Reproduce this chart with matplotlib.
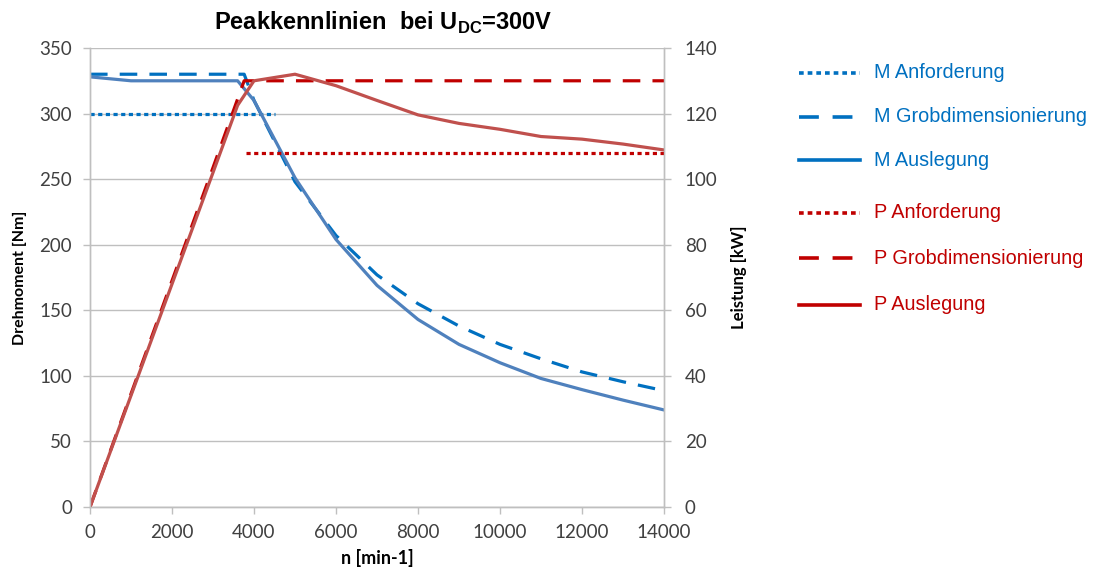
import matplotlib
matplotlib.use("Agg")
import matplotlib.pyplot as plt
from matplotlib.lines import Line2D

plt.rcParams['mathtext.fontset'] = 'custom'
plt.rcParams['mathtext.rm'] = 'Liberation Sans'
plt.rcParams['mathtext.bf'] = 'Liberation Sans:bold'

# ---- data ----
n_anf_M = [0, 4500]
M_anf = [300, 300]
n_grob = [0, 1000, 2000, 3000, 3760, 4000, 5000, 6000, 7000, 8000, 9000, 10000, 11000, 12000, 13000, 14000]
M_grob = [330, 330, 330, 330, 330, 310, 248, 207, 177, 155, 138, 124, 113, 103, 95.5, 88.7]
P_grob = [0, 34.5, 69, 103.5, 130, 130, 130, 130, 130, 130, 130, 130, 130, 130, 130, 130]
n_aus = [0, 1000, 2000, 3000, 3600, 4000, 5000, 6000, 7000, 8000, 9000, 10000, 11000, 12000, 13000, 14000]
M_aus = [328, 325, 325, 325, 325, 310, 251, 204, 169, 143, 124, 110, 98, 89.5, 81.5, 74]
P_aus = [0, 34, 68, 102, 122.5, 130, 132, 128.5, 124, 119.6, 117, 115.2, 113, 112.2, 110.7, 108.9]
n_anf_P = [3800, 14000]
P_anf = [108, 108]

labels = ["M Anforderung", "M Grobdimensionierung", "M Auslegung",
          "P Anforderung", "P Grobdimensionierung", "P Auslegung"]

x_ticks = [0, 2000, 4000, 6000, 8000, 10000, 12000, 14000]
yl_ticks = [0, 50, 100, 150, 200, 250, 300, 350]
yr_ticks = [0, 20, 40, 60, 80, 100, 120, 140]

BLUE = '#0070C0'
BLUE_S = '#4F81BD'
RED = '#C00000'
RED_S = '#C0504D'
GRID = '#BFBFBF'
TXT = '#404040'

dot = (0, (1.3, 1.1))
dash = (0, (5.5, 3.8))
lw = 2.3

fig = plt.figure(figsize=(10.93, 5.67), dpi=100)
ax = fig.add_axes([90/1093, 60/567, 574/1093, 459/567])
ax2 = ax.twinx()

ax.plot(n_anf_M, M_anf, color=BLUE, lw=lw, linestyle=dot, dash_capstyle='butt')
ax.plot(n_grob, M_grob, color=BLUE, lw=lw, linestyle=dash, dash_capstyle='butt')
ax.plot(n_aus, M_aus, color=BLUE_S, lw=lw)
ax2.plot(n_anf_P, P_anf, color=RED, lw=lw, linestyle=dot, dash_capstyle='butt')
ax2.plot(n_grob, P_grob, color=RED, lw=lw, linestyle=dash, dash_capstyle='butt')
ax2.plot(n_aus, P_aus, color=RED_S, lw=lw)

ax.set_xlim(0, 14000)
ax.set_ylim(0, 350)
ax2.set_ylim(0, 140)
ax.set_xticks(x_ticks)
ax.set_yticks(yl_ticks)
ax2.set_yticks(yr_ticks)
tfs = 13.5
ax.set_xticklabels([str(v) for v in x_ticks], fontfamily='Lato', fontsize=tfs, color=TXT)
ax.set_yticklabels([str(v) for v in yl_ticks], fontfamily='Lato', fontsize=tfs, color=TXT)
ax2.set_yticklabels([str(v) for v in yr_ticks], fontfamily='Lato', fontsize=tfs, color=TXT)

ax.grid(axis='y', color=GRID, lw=1)
ax.set_axisbelow(True)
for a in (ax, ax2):
    a.spines['top'].set_visible(False)
    for s in ('left', 'right', 'bottom'):
        a.spines[s].set_color(GRID)
        a.spines[s].set_linewidth(1)
    a.tick_params(axis='both', colors=GRID, labelcolor=TXT, length=5, width=1, direction='out')
ax.tick_params(axis='x', pad=7)
ax.tick_params(axis='y', pad=8)
ax2.tick_params(axis='y', pad=10)

ax.set_xlabel("n [min-1]", fontfamily='Lato', fontweight='bold', fontsize=13, labelpad=6)
ax.set_ylabel("Drehmoment [Nm]", fontfamily='Lato', fontweight='bold', fontsize=11.5, labelpad=9)
ax2.set_ylabel("Leistung [kW]", fontfamily='Lato', fontweight='bold', fontsize=12, labelpad=10, rotation=90)

fig.text(383/1093, 1 - 23/567, r'Peakkennlinien  bei U$_{\mathbf{DC}}$=300V',
         ha='center', va='center', fontfamily='Liberation Sans', fontweight='bold', fontsize=17)

# legend (manual)
styles = [(BLUE, dot), (BLUE, dash), (BLUE, '-'), (RED, dot), (RED, dash), (RED, '-')]
ys = [73, 117, 160, 213, 258, 305]
for (c, ls), y, lab in zip(styles, ys, labels):
    yf = 1 - y/567
    fig.add_artist(Line2D([799/1093, 860/1093], [yf, yf], color=c, lw=2.6, linestyle=ls,
                          dash_capstyle='butt', transform=fig.transFigure))
    fig.text(874/1093, yf, lab, color=c, fontfamily='Liberation Sans', fontsize=14.3,
             ha='left', va='center')

fig.savefig('out.png', dpi=100)
